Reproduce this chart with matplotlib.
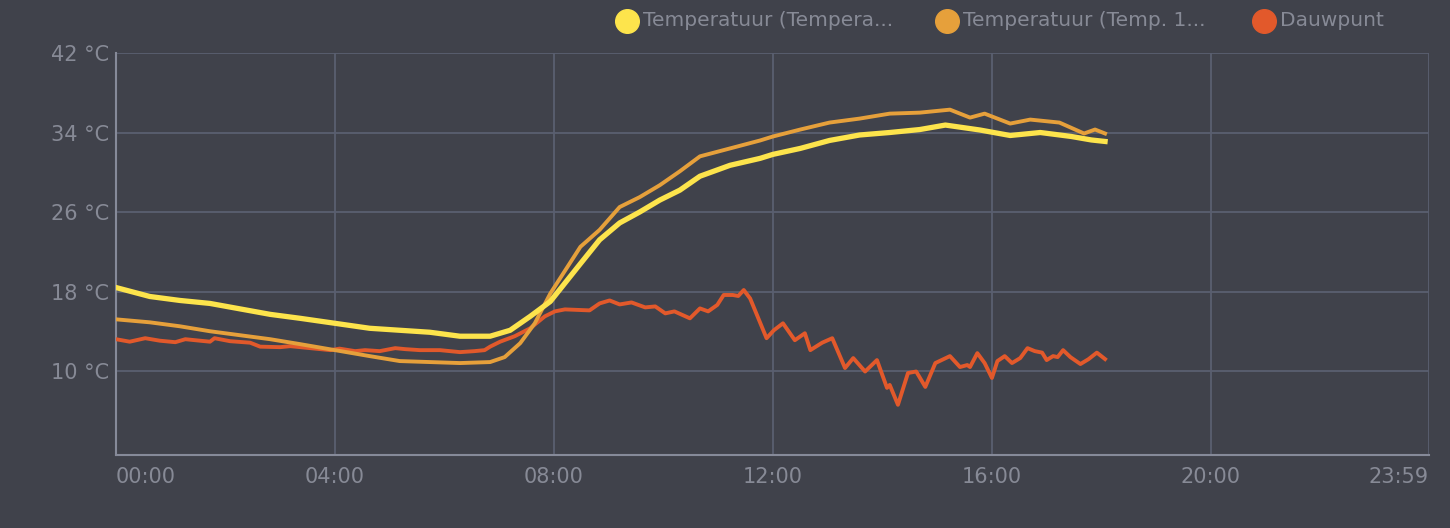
import numpy as np
import matplotlib.pyplot as plt
from matplotlib.lines import Line2D

# temperature series (sensor 1, sensor 2) sampled roughly every half hour
temp_times = ["00:00", "00:37", "01:10", "01:43", "02:16", "02:49", "03:22", "04:00",
              "04:38", "05:11", "05:44", "06:17", "06:50", "07:12", "07:34", "07:56",
              "08:29", "08:50", "09:12", "09:34", "09:56", "10:18", "10:40", "11:13",
              "11:46", "12:00", "12:30", "13:02", "13:35", "14:08", "14:41", "15:09",
              "15:47", "16:20", "16:53", "17:27", "17:49", "18:04"]
temp_a = [18.4, 17.5, 17.1, 16.8, 16.25, 15.7, 15.3, 14.8,
          14.3, 14.1, 13.9, 13.5, 13.5, 14.1, 15.5, 17.0,
          20.8, 23.2, 24.9, 26.0, 27.2, 28.2, 29.6, 30.7,
          31.4, 31.8, 32.4, 33.2, 33.75, 34.0, 34.3, 34.75,
          34.25, 33.7, 34.0, 33.6, 33.25, 33.1]

temp_b_times = ["00:00", "00:37", "01:10", "01:43", "02:16", "02:49", "03:22", "04:00",
                "04:38", "05:11", "05:44", "06:17", "06:50", "07:06", "07:23", "07:39",
                "07:56", "08:29", "08:50", "09:12", "09:34", "09:56", "10:18", "10:40",
                "11:13", "11:46", "12:00", "12:30", "13:02", "13:35", "14:08", "14:41",
                "15:14", "15:36", "15:52", "16:20", "16:42", "17:14", "17:41", "17:53",
                "18:04"]
temp_b = [15.2, 14.9, 14.5, 14.0, 13.6, 13.2, 12.7, 12.1,
          11.5, 11.0, 10.9, 10.8, 10.9, 11.4, 12.8, 14.8,
          17.8, 22.5, 24.2, 26.5, 27.5, 28.7, 30.1, 31.6,
          32.4, 33.2, 33.6, 34.3, 35.0, 35.4, 35.9, 36.0,
          36.3, 35.5, 35.9, 34.9, 35.3, 35.0, 33.9, 34.3,
          33.9]

dew_times = ["00:00", "00:15", "00:32", "00:48", "01:05", "01:16", "01:32", "01:43",
             "01:48", "02:05", "02:27", "02:38", "03:00", "03:11", "03:33", "03:55",
             "04:05", "04:22", "04:33", "04:49", "05:06", "05:17", "05:33", "05:55",
             "06:17", "06:33", "06:44", "06:50", "07:01", "07:17", "07:34", "07:50",
             "08:01", "08:12", "08:39", "08:50", "09:01", "09:12", "09:25", "09:40",
             "09:51", "10:02", "10:12", "10:29", "10:40", "10:49", "10:59", "11:06",
             "11:16", "11:22", "11:28", "11:35", "11:53", "12:01", "12:11", "12:24",
             "12:35", "12:41", "12:54", "13:05", "13:19", "13:28", "13:41", "13:54",
             "14:05", "14:08", "14:17", "14:28", "14:37", "14:47", "14:58", "15:14",
             "15:25", "15:33", "15:36", "15:44", "15:52", "16:00", "16:06", "16:14",
             "16:22", "16:31", "16:39", "16:47", "16:55", "17:00", "17:07", "17:12",
             "17:18", "17:26", "17:37", "17:46", "17:55", "18:04"]
dew_point = [13.2, 12.95, 13.3, 13.05, 12.9, 13.2, 13.05, 12.95,
             13.3, 13.0, 12.85, 12.45, 12.4, 12.5, 12.3, 12.1,
             12.25, 12.0, 12.1, 12.0, 12.3, 12.2, 12.1, 12.1,
             11.9, 12.0, 12.1, 12.45, 12.95, 13.5, 14.3, 15.5,
             16.0, 16.2, 16.1, 16.8, 17.1, 16.7, 16.9, 16.4,
             16.5, 15.8, 16.0, 15.3, 16.3, 16.0, 16.65, 17.65,
             17.65, 17.55, 18.15, 17.3, 13.3, 14.1, 14.8, 13.1,
             13.8, 12.1, 12.85, 13.3, 10.3, 11.3, 9.95, 11.1,
             8.3, 8.6, 6.6, 9.8, 9.95, 8.4, 10.8, 11.5,
             10.4, 10.6, 10.4, 11.8, 10.8, 9.3, 11.0, 11.5,
             10.8, 11.3, 12.3, 12.0, 11.85, 11.1, 11.5, 11.4,
             12.1, 11.4, 10.7, 11.2, 11.85, 11.2]

series_labels = ["Temperatuur (Tempera...", "Temperatuur (Temp. 1...", "Dauwpunt"]
y_ticks = [10, 18, 26, 34, 42]
x_tick_labels = ["00:00", "04:00", "08:00", "12:00", "16:00", "20:00", "23:59"]


def to_hours(stamps):
    return np.array([int(s[:2]) + int(s[3:]) / 60 for s in stamps])


BG = "#40424b"
GRID = "#5a5f70"
AXIS = "#868a99"
TEXT = "#878a96"
colors = ["#fde44c", "#e6a03b", "#e2592b"]

fig = plt.figure(figsize=(14.5, 5.28), dpi=100, facecolor=BG)
ax = fig.add_axes([0.08, 0.1383, 0.9055, 0.7613], facecolor=BG)

ax.plot(to_hours(dew_times), dew_point, color=colors[2], lw=2.8, solid_joinstyle="round", zorder=3)
ax.plot(to_hours(temp_b_times), temp_b, color=colors[1], lw=2.8, solid_joinstyle="round", zorder=4)
ax.plot(to_hours(temp_times), temp_a, color=colors[0], lw=3.8, solid_joinstyle="round", zorder=5)

x_ticks = to_hours(x_tick_labels)
ax.set_xlim(0, x_ticks[-1])
ax.set_ylim(1.55, 42)
ax.set_xticks(x_ticks)
ax.set_xticklabels(x_tick_labels)
ax.set_yticks(y_ticks)
ax.set_yticklabels([f"{v} °C" for v in y_ticks])
ax.grid(True, color=GRID, lw=1.3)
ax.tick_params(length=0, labelsize=15, labelcolor=TEXT)
ax.tick_params(axis="x", pad=9)
ax.tick_params(axis="y", pad=5)
lbls = ax.get_xticklabels()
lbls[0].set_ha("left")
lbls[-1].set_ha("right")

for side in ["top", "right"]:
    ax.spines[side].set_visible(False)
for side in ["left", "bottom"]:
    ax.spines[side].set_color(AXIS)
    ax.spines[side].set_linewidth(1.5)

# legend along the top
leg_x = [627, 947, 1264]
for x, lab, c in zip(leg_x, series_labels, colors):
    fig.add_artist(Line2D([x / 1450], [1 - 21 / 528], marker="o", markersize=17,
                          color=c, transform=fig.transFigure))
    fig.text((x + 16) / 1450, 1 - 21 / 528, lab, color=TEXT, fontsize=14.5, va="center", ha="left")

fig.savefig("out.png", dpi=100, facecolor=BG)
